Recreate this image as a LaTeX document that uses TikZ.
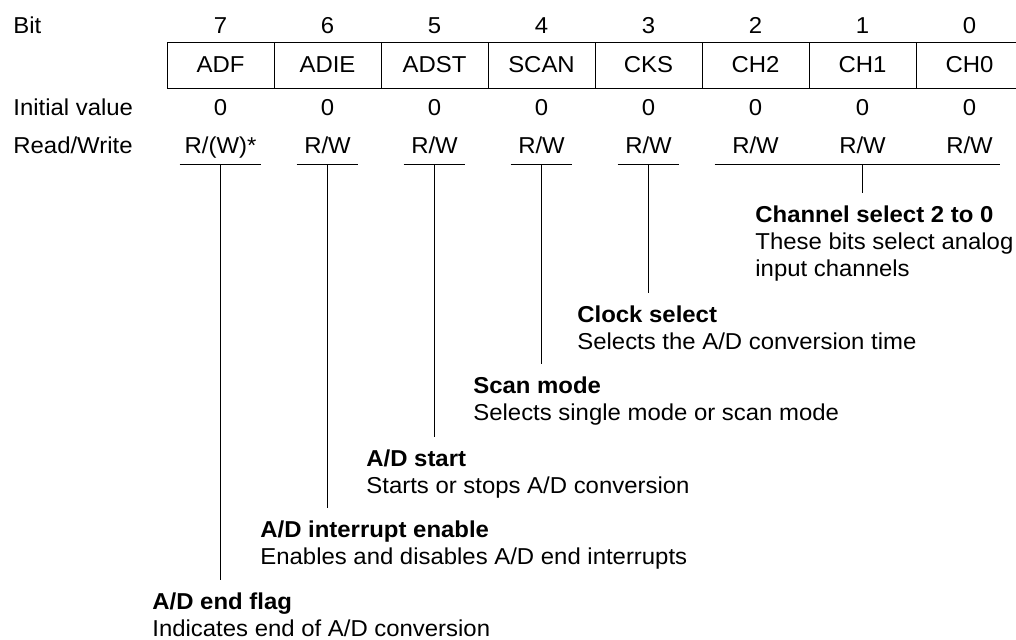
\documentclass[tikz,border=0pt]{standalone}
\usepackage{fontspec}
\setmainfont[FakeStretch=1.04]{Liberation Sans}
\usepackage{tikz}

\begin{document}
\begin{tikzpicture}[x=0.5pt,y=-0.5pt,
  every node/.style={font=\fontsize{11.5}{13.5}\selectfont},
  cell/.style={draw,line width=0.5pt,minimum width=53.5pt,minimum height=23pt,inner sep=0pt},
  plain/.style={anchor=base,inner sep=0pt},
  rw/.style={anchor=base,inner xsep=0pt,inner ysep=5.5pt,text depth=0pt,minimum width=30.5pt},
  note/.style={anchor=north west,align=left,inner xsep=0pt,inner ysep=6pt},
  wire/.style={line width=0.5pt}]
\useasboundingbox (0,0) rectangle (1016,639);
\node[plain,anchor=base west] (hbit) at (13,33) {Bit};
\node[plain,anchor=base west] (hval) at (13,115) {Initial value};
\node[plain,anchor=base west] (hrw) at (13,153) {Read/Write};
\foreach \n/\lab/\acc [count=\i from 0] in {7/ADF/{R/(W)*},6/ADIE/{R/W},5/ADST/{R/W},4/SCAN/{R/W},3/CKS/{R/W},2/CH2/{R/W},1/CH1/{R/W},0/CH0/{R/W}} {
  \node[cell] (c\n) at ({220.5+107*\i},65) {\lab};
  \node[plain] (b\n) at ({220.5+107*\i},33) {\n};
  \node[plain] (v\n) at ({220.5+107*\i},115) {0};
  \node[rw] (r\n) at ({220.5+107*\i},153) {\acc};
}
\node[note] (n7) at (152,580) {\textbf{A/D end flag}\\Indicates end of A/D conversion};
\node[note] (n6) at (260,508) {\textbf{A/D interrupt enable}\\Enables and disables A/D end interrupts};
\node[note] (n5) at (366,437) {\textbf{A/D start}\\Starts or stops A/D conversion};
\node[note] (n4) at (473,364) {\textbf{Scan mode}\\Selects single mode or scan mode};
\node[note] (n3) at (577,293) {\textbf{Clock select}\\Selects the A/D conversion time};
\node[note] (nch) at (755,193) {\textbf{Channel select 2 to 0}\\These bits select analog\\input channels};
\draw[wire] ([xshift=-2.3pt]r7.south west) -- ([xshift=2.3pt]r7.south east);
\foreach \n in {6,5,4,3}
  \draw[wire] (r\n.south west) -- (r\n.south east);
\draw[wire] ([xshift=-5pt]r2.south west) -- (r0.south east);
\foreach \n in {7,6,5,4,3}
  \draw[wire] (r\n.south) -- (r\n.south |- n\n.north);
\draw[wire] (r1.south) -- (r1.south |- nch.north);
\end{tikzpicture}
\end{document}
